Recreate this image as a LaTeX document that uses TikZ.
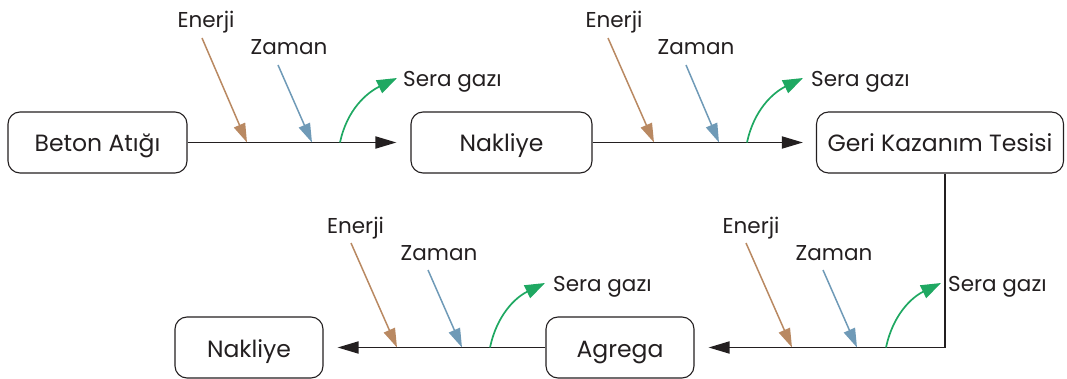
\documentclass[tikz,border=0pt]{standalone}
\usepackage{fontspec}
\setmainfont{Poppins}
\usetikzlibrary{arrows.meta}
\definecolor{ink}{HTML}{231F20}
\definecolor{energy}{HTML}{B98962}
\definecolor{timec}{HTML}{6F9AB7}
\definecolor{ghg}{HTML}{1FA862}
\tikzset{
  stage/.style={draw=ink, line width=1.1pt, rounded corners=12pt, minimum height=61pt,
    inner sep=0pt, text height=19pt, text depth=0pt, text=ink,
    font=\fontsize{23.5}{26}\selectfont},
  lbl/.style={text=ink, inner sep=0pt, text height=15pt, text depth=0pt,
    font=\fontsize{21.5}{24}\selectfont},
  flow/.style={draw=ink, line width=1.8pt, -{Triangle[length=21pt,width=12pt]}},
  inE/.style={draw=energy, line width=1.5pt, -{Triangle[length=19pt,width=12pt]}},
  inT/.style={draw=timec, line width=1.5pt, -{Triangle[length=19pt,width=12pt]}},
  outG/.style={draw=ghg, line width=1.7pt, -{Triangle[length=20pt,width=14pt]}},
}
\begin{document}
\begin{tikzpicture}[x=1pt,y=-1pt]
\useasboundingbox (0,0) rectangle (1067,379);

% process stages
\node[stage, minimum width=179pt] (beton) at (97.5,142.5) {Beton Atığı};
\node[stage, minimum width=181pt] (nak1) at (501.5,142.5) {Nakliye};
\node[stage, minimum width=247pt] (geri) at (940,142.5) {Geri Kazanım Tesisi};
\node[stage, minimum width=148pt] (agrega) at (620,347.5) {Agrega};
\node[stage, minimum width=148pt] (nak2) at (249,347.5) {Nakliye};

% main flow
\draw[flow, shorten >=14pt] (beton.east) -- (nak1.west);
\draw[flow, shorten >=13pt] (nak1.east) -- (geri.west);
\coordinate (bend) at (945,347.5);
\draw[flow, shorten >=14pt] (geri.south -| bend) -- (bend) -- (agrega.east);
\draw[flow, shorten >=14pt] (agrega.west) -- (nak2.east);

% inputs and emissions along each link
% link 1
\node[lbl] (e1) at (206,20.5) {Enerji};
\node[lbl] (z1) at (289,47.5) {Zaman};
\node[lbl, anchor=west] (s1) at (403,79) {Sera gazı};
\coordinate (e1a) at (202,38);  \coordinate (e1b) at (247,142.5);
\coordinate (z1a) at (278,65);  \coordinate (z1b) at (312,142.5);
\coordinate (s1a) at (340,142.5); \coordinate (s1b) at (397,78);
\draw[inE] (e1a) -- (e1b);
\draw[inT] (z1a) -- (z1b);
\draw[outG] (s1a) to[out=78,in=206] (s1b);

% link 2
\node[lbl] (e2) at (614,20.5) {Enerji};
\node[lbl] (z2) at (696,47.5) {Zaman};
\node[lbl, anchor=west] (s2) at (811,79) {Sera gazı};
\coordinate (e2a) at (608,38);  \coordinate (e2b) at (654,142.5);
\coordinate (z2a) at (686,65);  \coordinate (z2b) at (719,142.5);
\coordinate (s2a) at (747,142.5); \coordinate (s2b) at (803,78);
\draw[inE] (e2a) -- (e2b);
\draw[inT] (z2a) -- (z2b);
\draw[outG] (s2a) to[out=78,in=206] (s2b);

% link 3
\node[lbl] (e3) at (751,226) {Enerji};
\node[lbl] (z3) at (834,252.5) {Zaman};
\node[lbl, anchor=west] (s3) at (948,283.5) {Sera gazı};
\coordinate (e3a) at (746,243);  \coordinate (e3b) at (792,347.5);
\coordinate (z3a) at (823,270);  \coordinate (z3b) at (857,347.5);
\coordinate (s3a) at (886,347.5); \coordinate (s3b) at (941,283);
\draw[inE] (e3a) -- (e3b);
\draw[inT] (z3a) -- (z3b);
\draw[outG] (s3a) to[out=78,in=206] (s3b);

% link 4
\node[lbl] (e4) at (355.5,226) {Enerji};
\node[lbl] (z4) at (439,252.5) {Zaman};
\node[lbl, anchor=west] (s4) at (553,283.5) {Sera gazı};
\coordinate (e4a) at (351,243);  \coordinate (e4b) at (397,347.5);
\coordinate (z4a) at (428,270);  \coordinate (z4b) at (462,347.5);
\coordinate (s4a) at (490,347.5); \coordinate (s4b) at (545,283);
\draw[inE] (e4a) -- (e4b);
\draw[inT] (z4a) -- (z4b);
\draw[outG] (s4a) to[out=78,in=206] (s4b);
\end{tikzpicture}
\end{document}
